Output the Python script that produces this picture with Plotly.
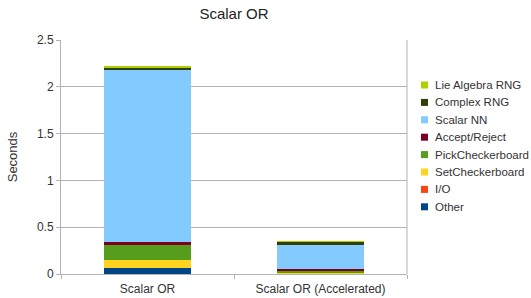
import plotly.graph_objects as go

categories = ["Scalar OR", "Scalar OR (Accelerated)"]
series_names = ["Other", "I/O", "SetCheckerboard", "PickCheckerboard",
                "Accept/Reject", "Scalar NN", "Complex RNG", "Lie Algebra RNG"]
other = [0.065, 0.006]
io = [0.002, 0.001]
set_cb = [0.08, 0.004]
pick_cb = [0.16, 0.018]
accept_reject = [0.04, 0.025]
scalar_nn = [1.83, 0.26]
complex_rng = [0.03, 0.03]
lie_rng = [0.01, 0.005]
series_values = [other, io, set_cb, pick_cb, accept_reject, scalar_nn, complex_rng, lie_rng]
colors = ["#004586", "#ff420e", "#ffd320", "#579d1c", "#7e0021", "#83caff", "#314004", "#aecf00"]

W, H = 531, 298
fig = go.Figure()
for name, vals, col in zip(series_names, series_values, colors):
    fig.add_trace(go.Bar(x=categories, y=vals, name=name, showlegend=False,
                         marker=dict(color=col, line=dict(width=0))))

font = "Liberation Sans, Arial, sans-serif"
fig.update_layout(
    width=W, height=H,
    barmode="stack", bargap=0.5,
    paper_bgcolor="white", plot_bgcolor="white",
    margin=dict(l=61, r=124, t=40, b=24, autoexpand=False),
    font=dict(family=font, size=12, color="#333333"),
    title=dict(text="Scalar OR", x=0.5, xanchor="center", xref="paper",
               y=1 - 13.5 / H, yanchor="middle", yref="container",
               font=dict(size=15, color="#222222")),
    showlegend=False,
)
fig.update_yaxes(range=[0, 2.5], dtick=0.5, showgrid=True, gridcolor="#b3b3b3", gridwidth=1,
                 showline=True, linecolor="#b3b3b3", ticks="outside", ticklen=4, tickcolor="#b3b3b3",
                 zeroline=False, automargin=False,
                 title=dict(text="Seconds", standoff=16, font=dict(size=13)))
fig.update_xaxes(showline=True, linecolor="#b3b3b3", ticks="outside", tickson="boundaries",
                 ticklen=4, tickcolor="#b3b3b3", showgrid=False, automargin=False,
                 ticklabelstandoff=4)
fig.add_shape(type="line", xref="paper", yref="paper", x0=1, x1=1, y0=0, y1=1,
              line=dict(color="#b3b3b3", width=1))

# manual legend (top item first)
leg_top = 85.0
leg_step = 17.4
for i, (name, col) in enumerate(reversed(list(zip(series_names, colors)))):
    yc = leg_top + i * leg_step
    fig.add_shape(type="rect", xref="paper", yref="paper",
                  x0=(421 - 61) / 346, x1=(428 - 61) / 346,
                  y0=(274 - (yc + 3.5)) / 234, y1=(274 - (yc - 3.5)) / 234,
                  fillcolor=col, line=dict(width=0))
    fig.add_annotation(text=name, xref="paper", yref="paper",
                       x=(433 - 61) / 346, y=(274 - yc) / 234,
                       xanchor="left", yanchor="middle", showarrow=False,
                       font=dict(size=11.5, color="#333333"))
fig.write_html("out.html", config={"displayModeBar": False},
               post_script="document.body.style.margin='0';document.body.style.overflow='hidden';")
